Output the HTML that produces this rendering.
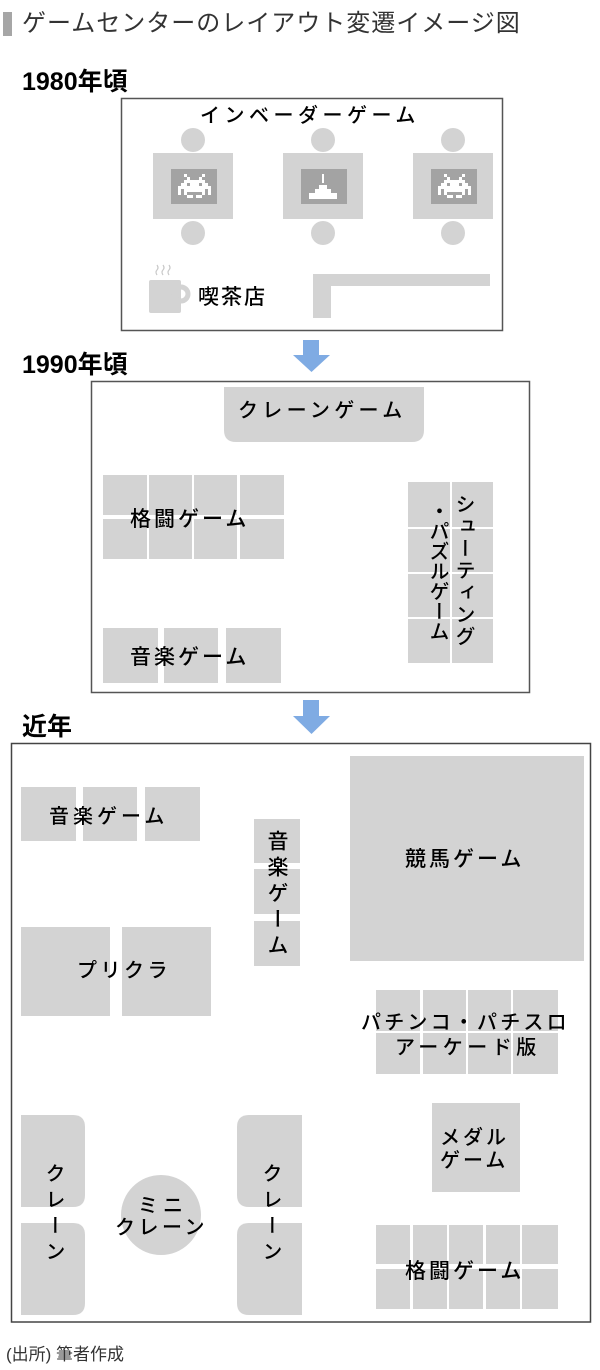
<!DOCTYPE html>
<html><head><meta charset="utf-8"><style>
html,body{margin:0;padding:0;background:#fff;}
body{width:600px;height:1370px;position:relative;overflow:hidden;font-family:"Liberation Sans","Noto Sans CJK JP",sans-serif;color:#000;}
svg{position:absolute;left:0;top:0;}
.t{position:absolute;white-space:nowrap;line-height:1;font-weight:500;}
.v{position:absolute;white-space:nowrap;line-height:1;writing-mode:vertical-rl;text-orientation:mixed;font-weight:500;}
</style></head><body>
<svg width="600" height="1370" viewBox="0 0 600 1370">
<rect x="3" y="12" width="9" height="24" fill="#a6a6a6"/>
<rect x="121.5" y="98.5" width="381" height="232" fill="none" stroke="#555" stroke-width="1.5"/>
<g fill="#d3d3d3">
<circle cx="193" cy="140" r="12"/><circle cx="323" cy="140" r="12"/><circle cx="453" cy="140" r="12"/>
<circle cx="193" cy="233" r="12"/><circle cx="323" cy="233" r="12"/><circle cx="453" cy="233" r="12"/>
<rect x="153" y="153" width="80" height="66"/><rect x="283" y="153" width="80" height="66"/><rect x="413" y="153" width="80" height="66"/>
</g>
<g fill="#a3a3a3">
<rect x="171" y="169" width="46" height="35"/><rect x="301" y="169" width="46" height="35"/><rect x="431" y="169" width="46" height="35"/>
</g>
<defs>
<g id="inv" fill="#fff">
<rect x="6" y="0" width="3" height="3"/><rect x="24" y="0" width="3" height="3"/>
<rect x="9" y="3" width="3" height="3"/><rect x="21" y="3" width="3" height="3"/>
<rect x="6" y="6" width="21" height="3"/>
<rect x="3" y="9" width="6" height="3"/><rect x="12" y="9" width="9" height="3"/><rect x="24" y="9" width="6" height="3"/>
<rect x="0" y="12" width="33" height="3"/>
<rect x="0" y="15" width="3" height="3"/><rect x="6" y="15" width="21" height="3"/><rect x="30" y="15" width="3" height="3"/>
<rect x="0" y="18" width="3" height="3"/><rect x="6" y="18" width="3" height="3"/><rect x="24" y="18" width="3" height="3"/><rect x="30" y="18" width="3" height="3"/>
<rect x="9" y="21" width="6" height="3"/><rect x="18" y="21" width="6" height="3"/>
</g>
</defs>
<use href="#inv" x="178" y="174"/>
<use href="#inv" x="438" y="174"/>
<g fill="#fff">
<rect x="322" y="174" width="2" height="9"/>
<rect x="319" y="185" width="8" height="4"/>
<rect x="315" y="189" width="16" height="4"/>
<rect x="309" y="193" width="28" height="6"/>
</g>
<rect x="149" y="280" width="32" height="33" rx="2" fill="#d3d3d3"/>
<circle cx="181" cy="294" r="7" fill="none" stroke="#d3d3d3" stroke-width="5"/>
<g fill="none" stroke="#c8c8c8" stroke-width="1.2">
<path d="M157 275 q-2 -3 0 -5 q2 -2 0 -5"/><path d="M163 275 q-2 -3 0 -5 q2 -2 0 -5"/><path d="M169 275 q-2 -3 0 -5 q2 -2 0 -5"/>
</g>
<path d="M313 274 H490 V286 H331 V318 H313 Z" fill="#d3d3d3"/>
<g fill="#7fabe3">
<rect x="303" y="340" width="16" height="16"/><polygon points="293,355 330,355 311.5,372"/>
<rect x="303" y="700" width="16" height="17"/><polygon points="293,716 330,716 311.5,734"/>
</g>
<rect x="91.5" y="381.5" width="438" height="311" fill="none" stroke="#555" stroke-width="1.5"/>
<g fill="#d3d3d3">
<path d="M224 387 H424 V430 Q424 442 412 442 H236 Q224 442 224 430 Z"/>
<rect x="103" y="475" width="44" height="40"/><rect x="149" y="475" width="43" height="40"/><rect x="194" y="475" width="43" height="40"/><rect x="240" y="475" width="44" height="40"/>
<rect x="103" y="519" width="44" height="40"/><rect x="149" y="519" width="43" height="40"/><rect x="194" y="519" width="43" height="40"/><rect x="240" y="519" width="44" height="40"/>
<rect x="103" y="628" width="55" height="55"/><rect x="164" y="628" width="54" height="55"/><rect x="226" y="628" width="55" height="55"/>
<rect x="408" y="482" width="42" height="45"/><rect x="452" y="482" width="41" height="45"/>
<rect x="408" y="529" width="42" height="43"/><rect x="452" y="529" width="41" height="43"/>
<rect x="408" y="574" width="42" height="43"/><rect x="452" y="574" width="41" height="43"/>
<rect x="408" y="619" width="42" height="44"/><rect x="452" y="619" width="41" height="44"/>
</g>
<rect x="11.5" y="743.5" width="579" height="578.5" fill="none" stroke="#444" stroke-width="1.5"/>
<g fill="#d3d3d3">
<rect x="21" y="787" width="55" height="54"/><rect x="83" y="787" width="54" height="54"/><rect x="145" y="787" width="55" height="54"/>
<rect x="254" y="819" width="46" height="44"/><rect x="254" y="869" width="46" height="45"/><rect x="254" y="921" width="46" height="45"/>
<rect x="21" y="927" width="89" height="89"/><rect x="122" y="927" width="89" height="89"/>
<rect x="350" y="756" width="234" height="205"/>
<rect x="376" y="990" width="44" height="41"/><rect x="423" y="990" width="43" height="41"/><rect x="468" y="990" width="43" height="41"/><rect x="513" y="990" width="45" height="41"/>
<rect x="376" y="1033" width="44" height="41"/><rect x="423" y="1033" width="43" height="41"/><rect x="468" y="1033" width="43" height="41"/><rect x="513" y="1033" width="45" height="41"/>
<rect x="432" y="1103" width="88" height="89"/>
<path d="M21 1115 H73 Q85 1115 85 1127 V1195 Q85 1207 73 1207 H21 Z"/>
<path d="M21 1223 H73 Q85 1223 85 1235 V1303 Q85 1315 73 1315 H21 Z"/>
<path d="M302 1115 H249 Q237 1115 237 1127 V1195 Q237 1207 249 1207 H302 Z"/>
<path d="M302 1223 H249 Q237 1223 237 1235 V1303 Q237 1315 249 1315 H302 Z"/>
<circle cx="161" cy="1215" r="40"/>
<rect x="376" y="1225" width="34" height="39"/><rect x="413" y="1225" width="34" height="39"/><rect x="449" y="1225" width="34" height="39"/><rect x="486" y="1225" width="34" height="39"/><rect x="522" y="1225" width="36" height="39"/>
<rect x="376" y="1269" width="34" height="40"/><rect x="413" y="1269" width="34" height="40"/><rect x="449" y="1269" width="34" height="40"/><rect x="486" y="1269" width="34" height="40"/><rect x="522" y="1269" width="36" height="40"/>
</g>
</svg>

<div class="t" style="left:22px;top:12px;font-size:24px;letter-spacing:1px;color:#333;font-weight:400;">ゲームセンターのレイアウト変遷イメージ図</div>
<div class="t" style="left:22px;top:70px;font-size:25px;font-weight:700;">1980年頃</div>
<div class="t" style="left:200px;top:106px;font-size:20px;letter-spacing:4.5px;">インベーダーゲーム</div>
<div class="t" style="left:198px;top:287px;font-size:21px;letter-spacing:2px;">喫茶店</div>

<div class="t" style="left:22px;top:353px;font-size:25px;font-weight:700;">1990年頃</div>
<div class="t" style="left:238px;top:401px;font-size:20px;letter-spacing:4.3px;">クレーンゲーム</div>
<div class="t" style="left:130px;top:509px;font-size:21px;letter-spacing:3px;">格闘ゲーム</div>
<div class="t" style="left:130px;top:647px;font-size:21px;letter-spacing:3px;">音楽ゲーム</div>
<div class="v" style="left:427px;top:501px;font-size:20px;letter-spacing:0px;">・パズルゲーム</div>
<div class="v" style="left:453px;top:494px;font-size:20px;letter-spacing:2px;">シューティング</div>

<div class="t" style="left:22px;top:715px;font-size:25px;font-weight:700;">近年</div>
<div class="t" style="left:49px;top:807px;font-size:20px;letter-spacing:4px;">音楽ゲーム</div>
<div class="v" style="left:266px;top:830px;font-size:21px;letter-spacing:5px;">音楽ゲーム</div>
<div class="t" style="left:77px;top:961px;font-size:20px;letter-spacing:3.5px;">プリクラ</div>
<div class="t" style="left:405px;top:849px;font-size:21px;letter-spacing:3px;">競馬ゲーム</div>
<div class="t" style="left:361px;top:1013px;font-size:20px;letter-spacing:3.2px;">パチンコ・パチスロ</div>
<div class="t" style="left:395px;top:1038px;font-size:20px;letter-spacing:4.5px;">アーケード版</div>
<div class="t" style="left:440px;top:1128px;font-size:20px;letter-spacing:3px;">メダル</div>
<div class="t" style="left:440px;top:1151px;font-size:20px;letter-spacing:3px;">ゲーム</div>
<div class="v" style="left:43px;top:1163px;font-size:20px;letter-spacing:6px;">クレーン</div>
<div class="v" style="left:260px;top:1163px;font-size:20px;letter-spacing:6px;">クレーン</div>
<div class="t" style="left:138px;top:1196px;font-size:20px;letter-spacing:5px;">ミニ</div>
<div class="t" style="left:115px;top:1218px;font-size:20px;letter-spacing:3.5px;">クレーン</div>
<div class="t" style="left:405px;top:1261px;font-size:21px;letter-spacing:3px;">格闘ゲーム</div>

<div class="t" style="left:6px;top:1346px;font-size:17px;color:#333;font-weight:400;">(出所) 筆者作成</div>
</body></html>
